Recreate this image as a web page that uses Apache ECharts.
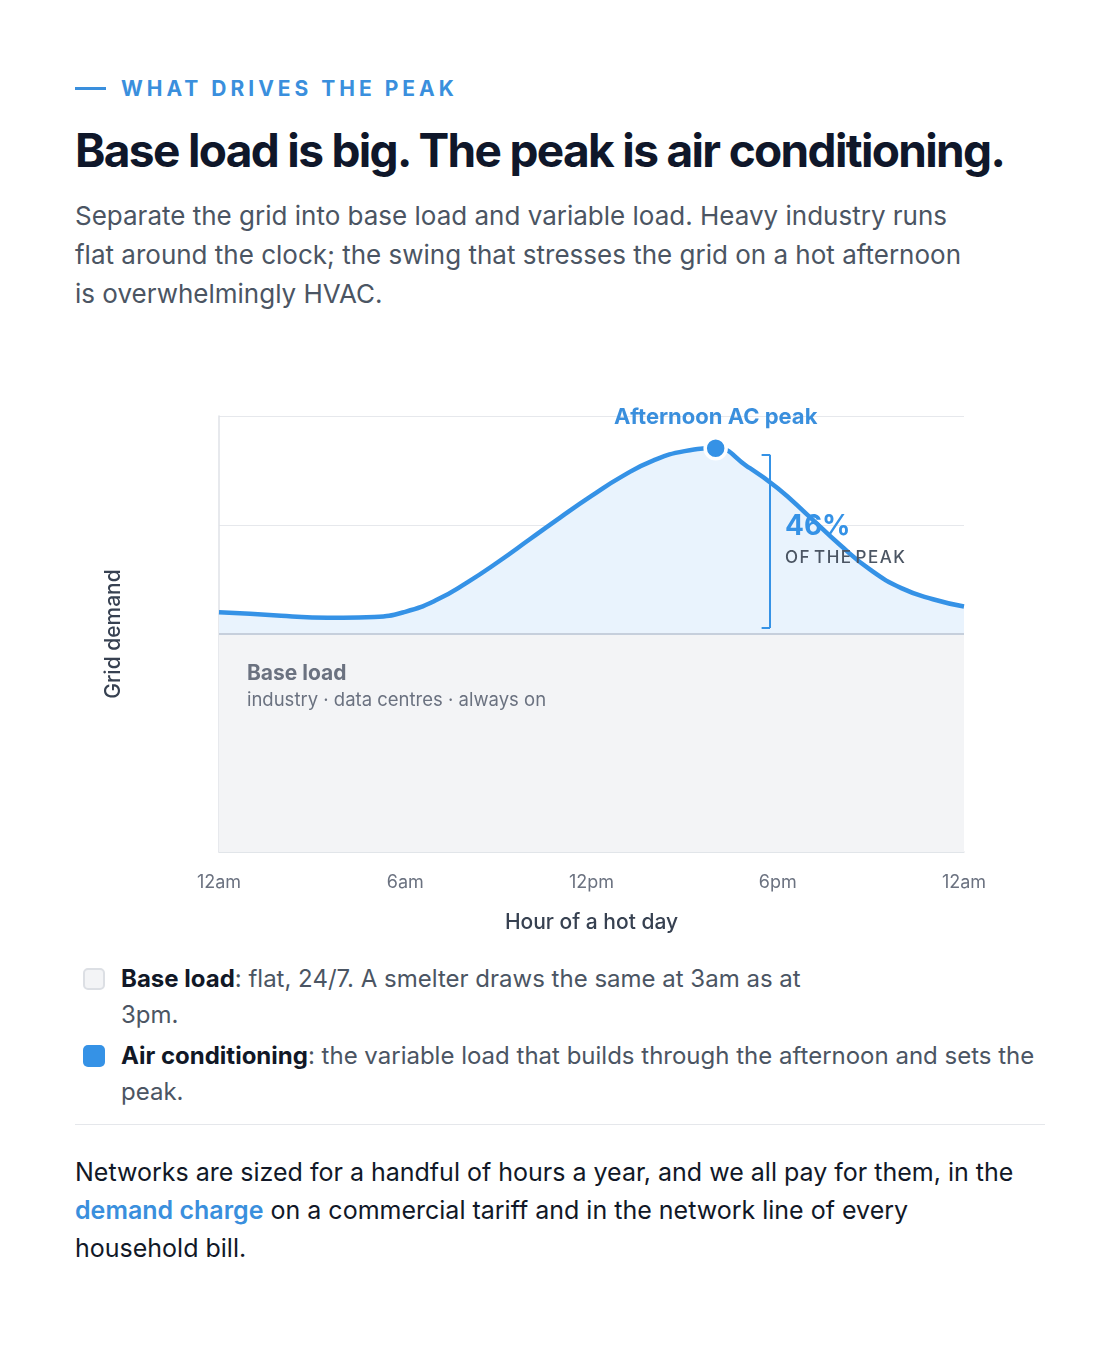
<!DOCTYPE html>
<html lang="en">
<head>
    <meta charset="UTF-8">
    <title>What drives the peak</title>
    <script src="https://cdn.jsdelivr.net/npm/echarts@6/dist/echarts.min.js"></script>
    <style>
        body{
            margin:0;
            background:#fff;
            font-family: Inter, "Noto Sans", sans-serif;
            width:1120px;
            height:1363px;
            position:relative;
        }
        .eyebrow{
            position:absolute; left:75px; top:77px;
            height:24px; line-height:24px;
            font-size:21px; font-weight:700; letter-spacing:4px;
            color:#3a8fdd;
        }
        .eyebrow::before{
            content:''; display:inline-block; width:31px; height:3px;
            background:#3a8fdd; vertical-align:middle; margin-right:15px; margin-top:-4px;
        }
        h1{
            position:absolute; left:75px; top:122px; margin:0;
            font-size:46px; line-height:56px; font-weight:700; letter-spacing:-1.66px;
            color:#0f172a; white-space:nowrap;
        }
        .sub{
            position:absolute; left:75px; top:196px; width:900px; margin:0;
            font-size:26px; line-height:39px; color:#4b5563;
        }
        #app{ position:absolute; left:75px; top:370px; width:970px; height:580px; }
        .key{ position:absolute; left:83px; top:961px; margin:0; padding:0; list-style:none; }
        .key li{ position:relative; padding-left:38px; font-size:24px; line-height:36px; color:#4b5563; margin-bottom:5px; }
        .key li b{ color:#111827; }
        .key li i{ position:absolute; left:0; top:7px; width:22px; height:22px; border-radius:5px; box-sizing:border-box; }
        .rule{ position:absolute; left:75px; top:1124px; width:970px; height:1px; background:#e5e7eb; }
        .foot{
            position:absolute; left:75px; top:1153px; width:955px; margin:0;
            font-size:25px; line-height:38px; color:#111827;
        }
        .foot a{ color:#3a8fdd; font-weight:600; text-decoration:none; }
    </style>
</head>
<body>

    <div class="eyebrow">WHAT DRIVES THE PEAK</div>
    <h1>Base load is big. The peak is air conditioning.</h1>
    <p class="sub">Separate the grid into base load and variable load. Heavy industry runs flat around the clock; the swing that stresses the grid on a hot afternoon is overwhelmingly HVAC.</p>

    <div id="app"></div>

    <ul class="key">
        <li style="width:680px"><i style="background:#f3f4f6;border:2px solid #dcdfe4"></i><b>Base load</b>: flat, 24/7. A smelter draws the same at 3am as at 3pm.</li>
        <li style="width:940px"><i style="background:#3592e6"></i><b>Air conditioning</b>: the variable load that builds through the afternoon and sets the peak.</li>
    </ul>
    <div class="rule"></div>
    <p class="foot">Networks are sized for a handful of hours a year, and we all pay for them, in the <a>demand charge</a> on a commercial tariff and in the network line of every household bill.</p>

    <script>
        // hour of the day, 0..24
        const hours = [0,1,2,3,4,5,6,7,8,9,10,11,12,13,14,15,16,17,18,19,20,21,22,23,24]
        // total grid demand (peak = 100)
        const demand = [59.4,59.0,58.5,58.1,58.0,58.2,59.5,62.4,66.8,71.9,77.4,82.9,88.2,93.1,97.0,99.3,100,95.6,90.1,83.2,76.1,69.8,65.3,62.6,60.8]
        // flat base load
        const baseLoad = 54
        const tickHours = [0,6,12,18,24]
        const tickLabels = ['12am','6am','12pm','6pm','12am']

        const BLUE = '#3592e6'
        const base = hours.map(h => [h, baseLoad])
        const total = hours.map((h, i) => [h, demand[i]])

        const peakVal = Math.max(...demand)
        const peakHour = hours[demand.indexOf(peakVal)]
        const pct = Math.round((peakVal - baseLoad) / peakVal * 100)
        const bx = peakHour + 1.75   // bracket position

        var myChart = echarts.init(document.getElementById('app'));

        var option = {
            animation:false,
            textStyle:{ fontFamily:'Inter' },
            grid:{ left:144, right:81, top:46, bottom:98 },
            xAxis:{
                type:'value', min:0, max:24, interval:6,
                name:'Hour of a hot day',
                nameLocation:'middle',
                nameGap:60,
                nameTextStyle:{ color:'#374151', fontSize:21, fontWeight:500 },
                axisLine:{ show:true, lineStyle:{ color:'#e0e3e8', width:1.5 } },
                axisTick:{ show:false },
                splitLine:{ show:false },
                axisLabel:{
                    color:'#6b7280', fontSize:18, margin:22,
                    formatter(v){ return tickLabels[tickHours.indexOf(v)] }
                }
            },
            yAxis:{
                type:'value', min:0, max:108, interval:27,
                name:'Grid demand',
                nameLocation:'middle',
                nameGap:95,
                nameTextStyle:{ color:'#374151', fontSize:21, fontWeight:500 },
                axisLine:{ show:true, lineStyle:{ color:'#dfe2e7', width:1.5 } },
                axisTick:{ show:false },
                axisLabel:{ show:false },
                splitLine:{ lineStyle:{ color:'#e6e8ec', width:1.2 } }
            },
            series:[
                {
                    name:'Air conditioning', type:'line',
                    data:total, symbol:'none', smooth:true,
                    lineStyle:{ color:BLUE, width:4.5 },
                    areaStyle:{ color:'#e9f3fd', opacity:1 },
                    z:2
                },
                {
                    name:'Base load', type:'line',
                    data:base, symbol:'none',
                    lineStyle:{ color:'#c6cfdc', width:2 },
                    areaStyle:{ color:'#f3f4f6', opacity:1 },
                    z:3
                },
                {
                    // bracket: base -> peak
                    type:'line', data:[], z:4,
                    markLine:{
                        silent:true, symbol:'none',
                        lineStyle:{ color:BLUE, width:2, type:'solid' },
                        label:{ show:false },
                        data:[
                            [{ coord:[bx, peakVal - 1.6] }, { coord:[bx, baseLoad + 1.5] }],
                            [{ coord:[bx - 0.27, peakVal - 1.6] }, { coord:[bx, peakVal - 1.6] }],
                            [{ coord:[bx - 0.27, baseLoad + 1.5] }, { coord:[bx, baseLoad + 1.5] }]
                        ]
                    }
                },
                {
                    type:'scatter', z:6,
                    data:[[peakHour, peakVal]],
                    symbolSize:21,
                    itemStyle:{ color:BLUE, borderColor:'#fff', borderWidth:3.5, opacity:1 },
                    label:{
                        show:true, position:'top', distance:8,
                        formatter:'Afternoon AC peak',
                        color:'#3a8fdd', fontSize:22, fontWeight:700
                    },
                    markLine:{
                        silent:true, symbol:'none', z:1,
                        lineStyle:{ color:'#6b7280', width:2, type:[3,6] },
                        label:{ show:false },
                        data:[[{ coord:[peakHour, 0] }, { coord:[peakHour, peakVal] }]]
                    }
                }
            ]
        };

        myChart.setOption(option);

        // annotation text placed in data space
        const spaced = s => s.split(' ').map(w => w.split('').join('\u200a')).join(' ')
        const pTxt = myChart.convertToPixel('grid', [bx, 0])
        const pMid = myChart.convertToPixel('grid', [0, (peakVal + baseLoad) / 2 + 4])
        const pBase = myChart.convertToPixel('grid', [0.9, baseLoad - 9])
        myChart.setOption({
            graphic:[
                { type:'text', x:pTxt[0] + 15, y:pMid[1] - 12, z:10,
                  style:{ text:pct + '%', fill:BLUE, font:'700 28px Inter' } },
                { type:'text', x:pTxt[0] + 15, y:pMid[1] + 24, z:10,
                  style:{ text:spaced('OF THE PEAK'), fill:'#4b5563', font:'500 17px Inter' } },
                { type:'text', x:pBase[0], y:pBase[1] - 7, z:10,
                  style:{ text:'Base load', fill:'#6b7280', font:'700 21px Inter' } },
                { type:'text', x:pBase[0], y:pBase[1] + 21, z:10,
                  style:{ text:'industry · data centres · always on', fill:'#6b7280', font:'400 18.5px Inter' } }
            ]
        })
    </script>

</body>
</html>
